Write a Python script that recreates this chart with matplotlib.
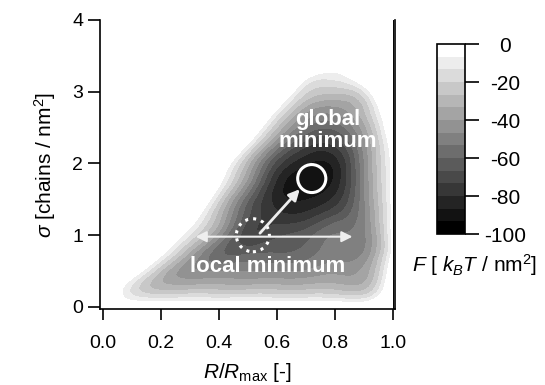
import numpy as np
import matplotlib
matplotlib.use("Agg")
import matplotlib.pyplot as plt
import matplotlib.tri as mtri
from matplotlib.colors import ListedColormap, BoundaryNorm
from matplotlib.patches import Ellipse

plt.rcParams['font.family'] = ['Liberation Sans', 'DejaVu Sans']
plt.rcParams['mathtext.fontset'] = 'custom'
plt.rcParams['mathtext.rm'] = 'Liberation Sans'
plt.rcParams['mathtext.it'] = 'Liberation Sans:italic'
plt.rcParams['mathtext.bf'] = 'Liberation Sans:bold'
plt.rcParams['axes.unicode_minus'] = False

# free energy grid (kT/nm^2); positive = outside the drawn region
r_vals = [0.0, 0.1, 0.2, 0.3, 0.4, 0.5, 0.6, 0.7, 0.8, 0.9, 1.0]
sigma_vals = [0.0, 0.25, 0.5, 0.75, 1.0, 1.25, 1.5, 1.75, 2.0, 2.25, 2.5, 2.75, 3.0, 3.25, 3.5]
F_grid = [
    # 0.0  0.1  0.2  0.3  0.4  0.5  0.6  0.7  0.8  0.9  1.0
    [8,    5,   5,   5,   5,   5,   5,   5,   5,   5,  15],   # 0.0
    [15, -15, -28, -28, -28, -28, -28, -28, -28, -28,  10],   # 0.25
    [34,   5, -27, -45, -47, -47, -47, -46, -42, -38,   4],   # 0.5
    [58,  28,  -3, -35, -58, -61, -60, -57, -50, -46,  -3],   # 0.75
    [76,  46,  16, -14, -44, -71, -68, -63, -53, -48,  -3],   # 1.0
    [108, 73,  38,   3, -31, -66, -77, -76, -65, -48,  -3],   # 1.25
    [141, 101, 61,  21, -19, -59, -83, -87, -78, -48,  -3],   # 1.5
    [157, 117, 77,  37,  -3, -43, -81, -92, -85, -48,  -3],   # 1.75
    [169, 129, 89,  49,   9, -31, -70, -86, -84, -47,  -3],   # 2.0
    [191, 151, 111, 71,  31,  -9, -49, -72, -73, -44,   0],   # 2.25
    [213, 173, 133, 93,  53,  13, -27, -54, -58, -36,   8],   # 2.5
    [233, 193, 153, 113, 73,  33,  -7, -37, -43, -27,  15],   # 2.75
    [257, 217, 177, 137, 97,  57,  17, -19, -25, -14,  40],   # 3.0
    [293, 253, 213, 173, 133, 93,  53,   3,  -8,  12,  70],   # 3.25
    [333, 293, 253, 213, 173, 133, 93,  53,  13,  25,  80],   # 3.5
]
F_levels = np.linspace(-100, 0, 16)
cbar_ticks = [0, -20, -40, -60, -80, -100]

# annotation points
global_min = (0.72, 1.79)
local_min = (0.517, 1.0)

F = np.array(F_grid, dtype=float)
nrow, ncol = F.shape

# triangulate in index space (square cells, same diagonal everywhere)
jj, ii = np.meshgrid(np.arange(ncol), np.arange(nrow))
tris = []
for i in range(nrow - 1):
    for j in range(ncol - 1):
        a = i * ncol + j
        tris.append([a, a + 1, a + ncol + 1])
        tris.append([a, a + ncol + 1, a + ncol])
tri = mtri.Triangulation(jj.ravel().astype(float), ii.ravel().astype(float), tris)
interp = mtri.CubicTriInterpolator(tri, F.ravel(), kind='min_E')
refiner = mtri.UniformTriRefiner(tri)
tri_f, F_f = refiner.refine_field(F.ravel(), triinterpolator=interp, subdiv=4)
# back to data coordinates
r_f = np.interp(tri_f.x, np.arange(ncol), r_vals)
s_f = np.interp(tri_f.y, np.arange(nrow), sigma_vals)
tri_plot = mtri.Triangulation(r_f, s_f, tri_f.triangles)

fig = plt.figure(figsize=(5.45, 3.85), dpi=100)
ax = fig.add_axes([100/545, 1-309/385, 295/545, 289/385])

grays = [(g, g, g) for g in np.linspace(0, 1, len(F_levels) - 1)]
cmap = ListedColormap(grays)
norm = BoundaryNorm(F_levels, cmap.N)
cs = ax.tricontourf(tri_plot, F_f, levels=F_levels, cmap=cmap, norm=norm)

ax.set_xlim(-0.01, 1.007)
ax.set_ylim(-0.028, 4.0)
ax.spines['top'].set_visible(False)
for s in ['left', 'bottom', 'right']:
    ax.spines[s].set_linewidth(1.2)
ax.axvline(1.0, color='k', lw=0.7)
ax.set_xticks([0, 0.2, 0.4, 0.6, 0.8, 1.0])
ax.set_xticklabels(['0.0', '0.2', '0.4', '0.6', '0.8', '1.0'])
ax.set_yticks([0, 1, 2, 3, 4])
ax.tick_params(axis='x', direction='out', length=8, width=1.2, pad=11, labelsize=14)
ax.tick_params(axis='y', direction='out', length=9, width=1.2, pad=3, labelsize=14)
ax.set_xlabel(r'$R$/$R_{\mathrm{max}}$ [-]', fontsize=15, labelpad=6)
ax.set_ylabel(r'$\sigma$ [chains / nm$^2$]', fontsize=15, labelpad=10)

# markers and arrows
ax.add_patch(Ellipse(global_min, 0.097, 0.39, fill=False, ec='white', lw=2.2))
ax.add_patch(Ellipse(local_min, 0.114, 0.46, fill=False, ec='white', lw=2.2, ls=':'))
ax.annotate('', xy=(0.685, 1.67), xytext=(0.535, 1.0),
            arrowprops=dict(arrowstyle='-|>', color='#eeeeee', lw=2, mutation_scale=16))
ax.annotate('', xy=(0.87, 0.98), xytext=(0.31, 0.98),
            arrowprops=dict(arrowstyle='<|-|>', color='#eeeeee', lw=1.5, mutation_scale=16))
ax.text(0.776, 2.46, 'global\nminimum', color='white', fontsize=16, fontweight='bold',
        ha='center', va='center', linespacing=1.1)
ax.text(0.569, 0.56, 'local minimum', color='white', fontsize=16, fontweight='bold',
        ha='center', va='center')

cax = fig.add_axes([437/545, 1-234/385, 28/545, 190/385])
cb = fig.colorbar(cs, cax=cax, ticks=cbar_ticks)
cb.minorticks_off()
cb.outline.set_linewidth(1.2)
cax.tick_params(direction='out', length=10, width=1.2, pad=19, labelsize=15)
for lab in cax.get_yticklabels():
    lab.set_horizontalalignment('center')
fig.text(475/545, 1-265/385, r'$F$ [ $k_BT$ / nm$^2$]', ha='center', va='center', fontsize=15)

fig.savefig('out.png', dpi=100)
